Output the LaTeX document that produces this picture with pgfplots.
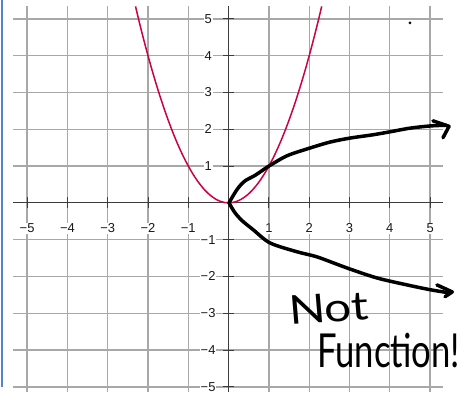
\documentclass[border=0pt]{standalone}
\usepackage{pgfplots}
\pgfplotsset{compat=1.18}
\usepackage{pgfplotstable}
\usepackage{fontspec}
\setmainfont{Liberation Sans}
\newfontfamily\hand{Lato}

\definecolor{parab}{RGB}{204,0,68}
\definecolor{gridc}{RGB}{168,168,168}
\definecolor{axc}{RGB}{60,60,60}
\definecolor{edge}{RGB}{84,132,204}

% y = x^2
\pgfplotstableread{
x y
-2.31 5.34
-2.2 4.84
-2.1 4.41
-2.0 4.00
-1.9 3.61
-1.8 3.24
-1.7 2.89
-1.6 2.56
-1.5 2.25
-1.4 1.96
-1.3 1.69
-1.2 1.44
-1.1 1.21
-1.0 1.00
-0.9 0.81
-0.8 0.64
-0.7 0.49
-0.6 0.36
-0.5 0.25
-0.4 0.16
-0.3 0.09
-0.2 0.04
-0.1 0.01
0.0 0.00
0.1 0.01
0.2 0.04
0.3 0.09
0.4 0.16
0.5 0.25
0.6 0.36
0.7 0.49
0.8 0.64
0.9 0.81
1.0 1.00
1.1 1.21
1.2 1.44
1.3 1.69
1.4 1.96
1.5 2.25
1.6 2.56
1.7 2.89
1.8 3.24
1.9 3.61
2.0 4.00
2.1 4.41
2.2 4.84
2.31 5.34
}\parabtab

% sideways curve, upper branch
\pgfplotstableread{
x y
0.01 0.00
0.11 0.19
0.24 0.41
0.41 0.60
0.66 0.75
1.00 1.00
1.45 1.28
1.96 1.47
2.51 1.65
3.01 1.76
3.58 1.85
4.00 1.93
4.50 2.03
5.00 2.09
5.40 2.11
}\uppertab

% sideways curve, lower branch
\pgfplotstableread{
x y
0.01 0.00
0.14 -0.24
0.31 -0.46
0.61 -0.73
1.03 -1.09
1.70 -1.33
2.20 -1.47
2.94 -1.77
3.68 -2.04
4.43 -2.23
5.00 -2.36
5.50 -2.45
}\lowertab

\begin{document}
\begin{tikzpicture}
\begin{axis}[
  scale only axis,
  width=430bp, height=386bp,
  xmin=-5.35, xmax=5.32,
  ymin=-5.14, ymax=5.35,
  axis lines=middle,
  axis line style={-, axc, line width=0.9bp},
  clip=false,
  xtick={-5,-4,-3,-2,-1,1,2,3,4,5},
  ytick={-5,-4,-3,-2,-1,1,2,3,4,5},
  xticklabels={−5,−4,−3,−2,−1,1,2,3,4,5},
  yticklabels={−5,−4,−3,−2,−1,1,2,3,4,5},
  grid=major,
  major grid style={gridc, line width=1.3bp},
  tick style={axc, line width=0.9bp},
  major tick length=11bp,
  tick align=center,
  xticklabel style={anchor=center, yshift=-20bp, fill=white, inner sep=1bp,
    font=\fontsize{13}{15}\selectfont, text=black!90},
  yticklabel style={anchor=center, xshift=-15bp, fill=white, inner sep=1bp,
    font=\fontsize{13}{15}\selectfont, text=black!90},
]
% screen edge
\draw[edge, line width=2bp] (axis cs:-5.63,5.52) -- (axis cs:-5.63,-5.0);

\addplot[parab, line width=1.5bp, smooth] table {\parabtab};

\addplot[black, line width=3.5bp, line cap=round, line join=round, smooth] table {\uppertab};
\addplot[black, line width=3.5bp, line cap=round, line join=round, smooth] table {\lowertab};
% arrow heads
\addplot[black, line width=3.5bp, line cap=round, line join=round] coordinates {(5.07,2.23) (5.47,2.08) (5.32,1.77)};
\addplot[black, line width=3.5bp, line cap=round, line join=round] coordinates {(5.17,-2.23) (5.55,-2.42) (5.37,-2.55)};
% stray dot
\addplot[only marks, mark=*, mark size=1.2bp, black] coordinates {(4.50,4.89)};

\node[font=\hand\fontsize{40}{44}\selectfont, xscale=1.2, rotate=4, inner sep=0pt] at (axis cs:2.48,-2.86) {Not};
\node[font=\hand\fontsize{47}{50}\selectfont, xscale=0.74, inner sep=0pt] at (axis cs:3.97,-4.0) {Function!};

\coordinate (sw) at (rel axis cs:0,0);
\coordinate (ne) at (rel axis cs:1,1);
\end{axis}
\pgfresetboundingbox
\path[use as bounding box] ([xshift=-13bp]sw) rectangle ([xshift=24bp,yshift=6bp]ne);
\end{tikzpicture}
\end{document}
